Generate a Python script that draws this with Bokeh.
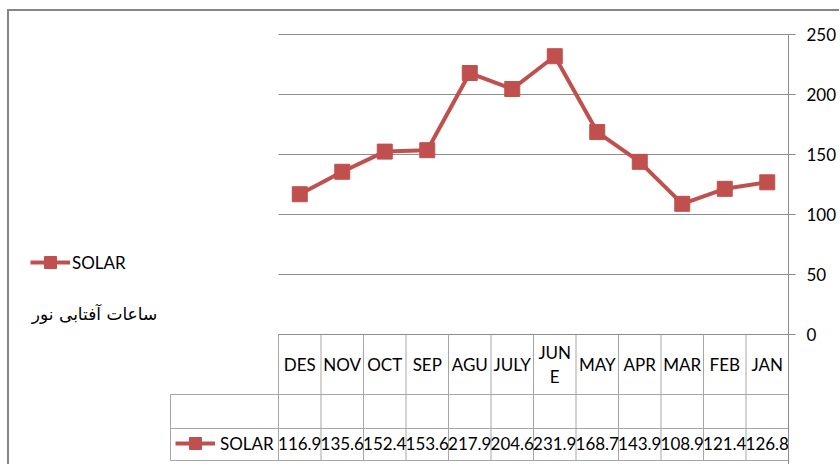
import numpy as np
from bokeh.plotting import figure
from bokeh.models import Range1d, FixedTicker, Legend, LegendItem, Label
from bokeh.core.properties import value
from bokeh.embed import file_html
from bokeh.resources import INLINE

# ---------------- data ----------------
months = ["DES", "NOV", "OCT", "SEP", "AGU", "JULY", "JUNE", "MAY", "APR", "MAR", "FEB", "JAN"]
solar = [116.9, 135.6, 152.4, 153.6, 217.9, 204.6, 231.9, 168.7, 143.9, 108.9, 121.4, 126.8]
y_ticks = [0, 50, 100, 150, 200, 250]
series_name = "SOLAR"
title_fa = "ساعات آفتابی نور"

# ---------------- style / layout ----------------
RED = "#C0504D"
GRID = "#8C8C8C"
TABLE = "#A6A6A6"
BORDER = "#868686"
FONT = "Lato"
FS = "17px"

n = len(months)
xc = np.arange(n) + 0.5
header_text = ["JUN\nE" if m == "JUNE" else m for m in months]
value_text = [f"{v:.1f}" for v in solar]

PX_PER_CAT = 42.5
PX_PER_UNIT = 1.2
FRAME_W, FRAME_H = 779, 453
LEFT_PX = 269
TOP_PX = 23
y_top = y_ticks[-1] + TOP_PX / PX_PER_UNIT
y_bot = y_top - FRAME_H / PX_PER_UNIT
x_left = -LEFT_PX / PX_PER_CAT
x_lbl = -108 / PX_PER_CAT
row1 = -60 / PX_PER_UNIT
row2 = -94 / PX_PER_UNIT
row3 = -126 / PX_PER_UNIT
y_head = -30 / PX_PER_UNIT
y_vals = -109 / PX_PER_UNIT

p = figure(frame_width=FRAME_W, frame_height=FRAME_H,
           x_range=Range1d(x_left, n), y_range=Range1d(y_bot, y_top),
           x_axis_location=None, y_axis_location="right",
           output_backend="svg", toolbar_location=None, title=None,
           min_border=0, min_border_right=50)
p.outline_line_color = None
p.xgrid.visible = False
p.ygrid.visible = False
p.background_fill_color = "white"
p.border_fill_color = "white"
p.styles = {"margin-left": "7px", "margin-top": "9px",
            "border-left": f"2px solid {BORDER}", "border-top": f"2px solid {BORDER}"}

ax = p.yaxis[0]
ax.ticker = FixedTicker(ticks=y_ticks)
ax.bounds = (y_bot, y_ticks[-1])
ax.axis_line_color = GRID
ax.major_tick_line_color = GRID
ax.major_tick_out = 7
ax.major_tick_in = 0
ax.minor_tick_line_color = None
ax.major_label_text_font = FONT
ax.major_label_text_font_size = FS
ax.major_label_text_color = "#000000"
ax.major_label_standoff = 11

# gridlines
p.segment(x0=0, x1=n, y0=y_ticks, y1=y_ticks, line_color=GRID, line_width=1)

# data table lines
bounds = np.arange(n + 1)
p.segment(x0=bounds, x1=bounds, y0=0, y1=row3, line_color=TABLE, line_width=1)
p.segment(x0=[x_lbl] * 3, x1=[n] * 3, y0=[row1, row2, row3], y1=[row1, row2, row3],
          line_color=TABLE, line_width=1)
p.segment(x0=[x_lbl], x1=[x_lbl], y0=[row1], y1=[row3], line_color=TABLE, line_width=1)

# table text
p.text(x=xc, y=[y_head] * n, text=header_text, text_align="center", text_baseline="middle",
       text_font=value(FONT), text_font_size=FS, text_color="#000000", text_line_height=1.15)
p.text(x=xc, y=[y_vals] * n, text=value_text, text_align="center", text_baseline="middle",
       text_font=value(FONT), text_font_size=FS, text_color="#000000")

# series
ln = p.line(xc, solar, line_width=4, line_color=RED, line_join="round")
sc = p.scatter(xc, solar, marker="square", size=15, fill_color=RED, line_color=RED)

def make_legend(loc, standoff):
    return Legend(items=[LegendItem(label=series_name, renderers=[ln, sc])], location=loc,
                  glyph_width=40, glyph_height=30, label_standoff=standoff,
                  padding=0, margin=0, spacing=0, border_line_color=None,
                  background_fill_alpha=0, label_text_font=FONT,
                  label_text_font_size=FS, label_text_color="#000000",
                  label_height=30)

p.add_layout(make_legend((21, 187), 2))
p.add_layout(make_legend((166, 6), 5))

p.add_layout(Label(x=(94 - 278) / PX_PER_CAT, y=21 / PX_PER_UNIT, text=title_fa,
                   text_align="center", text_baseline="middle", text_font="DejaVu Sans",
                   text_font_size="17px", text_color="#000000"))

open("out.html", "w").write(file_html(p, INLINE))
